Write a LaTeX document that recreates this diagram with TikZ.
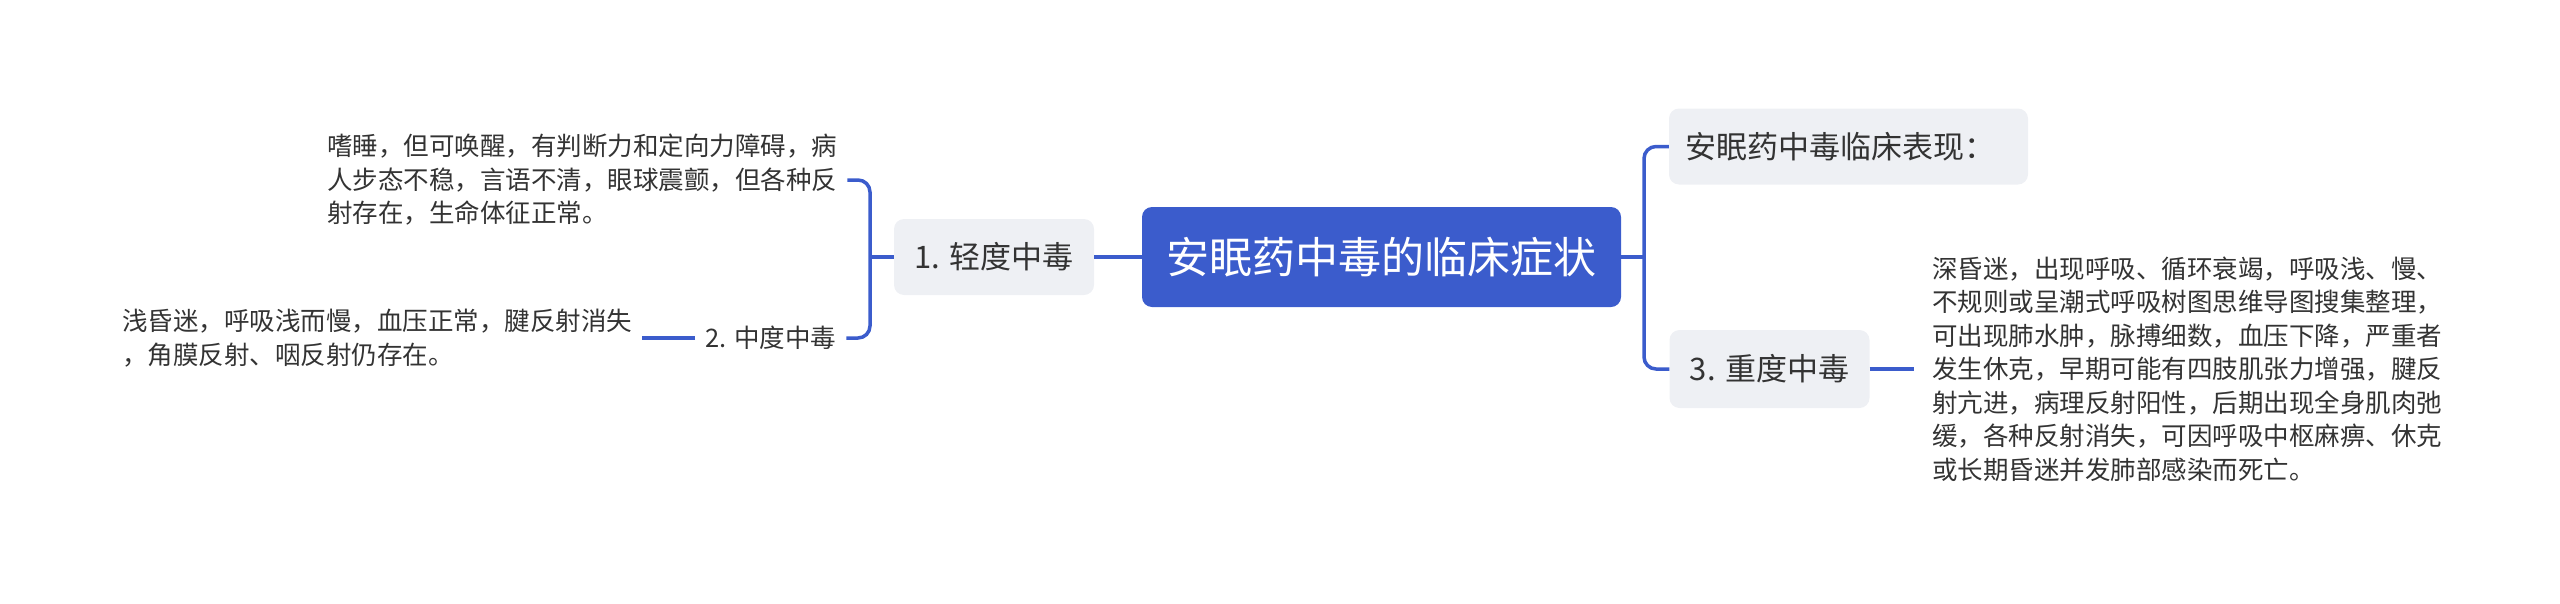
\documentclass[tikz,border=0pt]{standalone}
\usepackage{fontspec}
\setmainfont{Noto Sans CJK SC}
\definecolor{mainblue}{HTML}{3B5CCC}
\definecolor{boxgray}{HTML}{EEF0F4}
\definecolor{txt}{HTML}{333333}
\tikzset{
  root/.style={fill=mainblue, rounded corners=10pt, text=white, font=\fontsize{43}{52}\selectfont, minimum width=479pt, minimum height=100pt, inner sep=0pt},
  sub/.style={fill=boxgray, rounded corners=10pt, text=txt, font=\fontsize{31}{38}\selectfont, minimum height=76pt, inner sep=0pt},
  leaf/.style={text=txt, font=\fontsize{25.5}{33.5}\selectfont, align=left, inner xsep=10pt, inner ysep=2pt},
  conn/.style={draw=mainblue, line width=3.5pt},
}
\begin{document}
\begin{tikzpicture}[x=1pt,y=-1pt]
\useasboundingbox (0,0) rectangle (2560,603);
\node[root] (root) at (1381.5,257) {安眠药中毒的临床症状};
\node[sub, minimum width=200pt] (n1) at (994,257) {1. 轻度中毒};
\node[sub, text width=327pt, inner xsep=16pt, align=left] (n0) at (1848.5,146.5) {安眠药中毒临床表现：};
\node[sub, minimum width=200pt, minimum height=78pt] (n3) at (1769.5,369) {3. 重度中毒};
\node[leaf, anchor=west] (l1) at (317,180) {嗜睡，但可唤醒，有判断力和定向力障碍，病\\人步态不稳，言语不清，眼球震颤，但各种反\\射存在，生命体征正常。};
\node[leaf, anchor=west] (n2) at (695,338) {2. 中度中毒};
\node[leaf, anchor=west] (l2) at (112,338) {浅昏迷，呼吸浅而慢，血压正常，腱反射消失\\，角膜反射、咽反射仍存在。};
\node[leaf, anchor=west, inner xsep=18pt] (l3) at (1914,369) {深昏迷，出现呼吸、循环衰竭，呼吸浅、慢、\\不规则或呈潮式呼吸树图思维导图搜集整理，\\可出现肺水肿，脉搏细数，血压下降，严重者\\发生休克，早期可能有四肢肌张力增强，腱反\\射亢进，病理反射阳性，后期出现全身肌肉弛\\缓，各种反射消失，可因呼吸中枢麻痹、休克\\或长期昏迷并发肺部感染而死亡。};
\coordinate (bl) at (870,257);
\coordinate (br) at (1644,257);
\draw[conn] (root.west) -- (n1.east);
\draw[conn] (n1.west) -- (bl);
\draw[conn, rounded corners=12pt] (l1.east) -- (bl |- l1.east) -- (bl |- n2.east) -- (n2.east);
\draw[conn] (n2.west) -- (l2.east);
\draw[conn] (root.east) -- (br);
\draw[conn, rounded corners=12pt] (n0.west) -- (br |- n0.west) -- (br |- n3.west) -- (n3.west);
\draw[conn] (n3.east) -- (n3.east -| l3.west);
\end{tikzpicture}
\end{document}
